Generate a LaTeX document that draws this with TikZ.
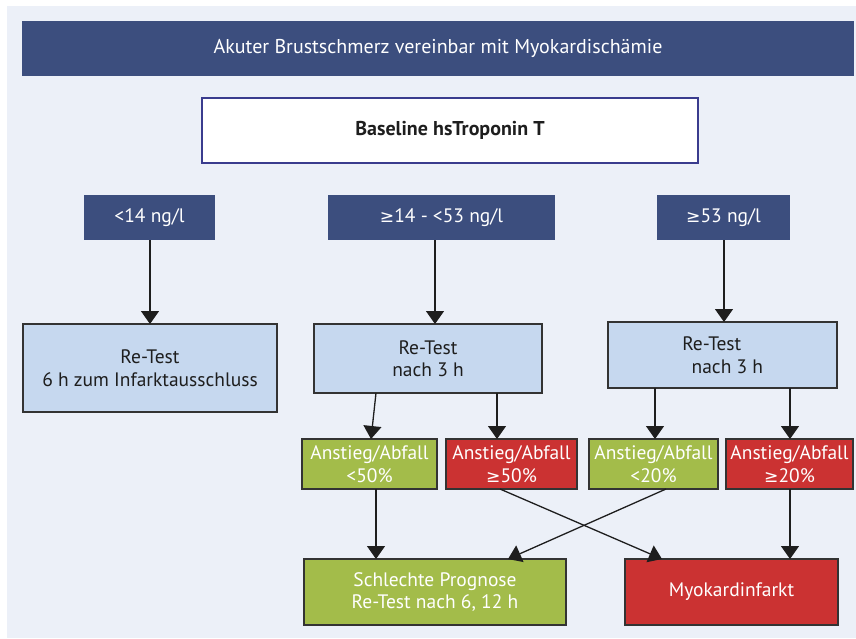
\documentclass[tikz,border=0pt]{standalone}
\usepackage{fontspec}
\setmainfont{PT Sans}
\newfontfamily\symfont[Scale=0.88]{DejaVu Sans}
\newcommand\gesym{{\symfont ≥}}
\usetikzlibrary{arrows.meta}

\definecolor{panel}{HTML}{ECF0F8}
\definecolor{navy}{HTML}{3C4E7E}
\definecolor{retest}{HTML}{C6D8EF}
\definecolor{okgreen}{HTML}{A3BC4A}
\definecolor{alarmred}{HTML}{CB3232}
\definecolor{boxline}{HTML}{333333}
\definecolor{frameblue}{HTML}{3A3C8E}
\definecolor{textdark}{HTML}{1E1E1E}

\begin{document}
\begin{tikzpicture}[x=1pt,y=-1pt,
  every node/.style={font=\fontsize{19.5}{22.5}\selectfont, align=center,
    inner sep=0pt, outer sep=0pt},
  navybox/.style={fill=navy, text=white},
  testbox/.style={fill=retest, draw=boxline, line width=1.2pt, text=textdark},
  greenbox/.style={fill=okgreen, draw=boxline, line width=1.2pt, text=white},
  redbox/.style={fill=alarmred, draw=boxline, line width=1.2pt, text=white},
  link/.style={draw=textdark, line width=1.3pt,
    -{Triangle[width=18pt,length=13pt]}}
]
% page and background panel
\fill[white] (0,0) rectangle (856,638);
\useasboundingbox (0,0) rectangle (856,638);
\fill[panel] (7,6) rectangle (856,638);

% header
\node[navybox, minimum width=832pt, minimum height=55pt,
  font=\fontsize{20}{23}\selectfont] (title) at (438,48.5)
  {Akuter Brustschmerz vereinbar mit Myokardischämie};
\node[fill=white, draw=frameblue, line width=1.2pt, text=textdark,
  minimum width=496pt, minimum height=65pt, font=\fontsize{20}{23}\selectfont\bfseries]
  (base) at (450,130.5) {Baseline hsTroponin T};

% troponin ranges
\node[navybox, minimum width=131pt, minimum height=45pt] (r1) at (149.5,217.5) {<14 ng/l};
\node[navybox, minimum width=227pt, minimum height=45pt] (r2) at (441.5,217.5) {\gesym14 - <53 ng/l};
\node[navybox, minimum width=133pt, minimum height=45pt] (r3) at (723.5,217.5) {\gesym53 ng/l};

% re-tests
\node[testbox, minimum width=254pt, minimum height=88pt] (t1) at (150,368)
  {Re-Test\\6 h zum Infarktausschluss};
\node[testbox, minimum width=228pt, minimum height=69pt] (t2) at (428,358.5)
  {Re-Test\\nach 3 h};
\node[testbox, minimum width=229pt, minimum height=66pt] (t3) at (722.5,355)
  {Re-Test\hspace*{1.1em}\\\hspace*{0.5em}nach 3 h};

% changes after 3 h
\node[greenbox, minimum width=135pt, minimum height=50pt] (a1) at (369.5,464)
  {Anstieg/Abfall\\<50\%};
\node[redbox, minimum width=131pt, minimum height=50pt] (a2) at (511.5,464)
  {Anstieg/Abfall\\\gesym50\%};
\node[greenbox, minimum width=129pt, minimum height=50pt] (a3) at (653.5,464)
  {Anstieg/Abfall\\<20\%};
\node[redbox, minimum width=127pt, minimum height=50pt] (a4) at (789.5,464)
  {Anstieg/Abfall\\\gesym20\%};

% outcomes
\node[greenbox, minimum width=262pt, minimum height=66pt] (b1) at (435,592)
  {Schlechte Prognose\\Re-Test nach 6, 12 h};
\node[redbox, minimum width=213pt, minimum height=66pt] (b2) at (731.5,592)
  {Myokardinfarkt};

% connectors
\draw[link] ([xshift=0.5pt]r1.south) -- ([xshift=0.5pt]r1.south |- t1.north);
\draw[link] ([xshift=-6.5pt]r2.south) -- ([xshift=-6.5pt]r2.south |- t2.north);
\draw[link] ([xshift=0.5pt]r3.south) -- ([xshift=0.5pt]r3.south |- t3.north);

\draw[link] ([xshift=-52pt]t2.south) -- ([xshift=1.5pt]a1.north);
\draw[link] ([xshift=69pt]t2.south) -- ([xshift=69pt]t2.south |- a2.north);
\draw[link] ([xshift=-67.5pt]t3.south) -- ([xshift=-67.5pt]t3.south |- a3.north);
\draw[link] ([xshift=0.5pt]a4.north |- t3.south) -- ([xshift=0.5pt]a4.north);

\draw[link] ([xshift=6.5pt]a1.south) -- ([xshift=6.5pt]a1.south |- b1.north);
\draw[link] ([xshift=-11.5pt]a2.south) -- ([xshift=-69.5pt]b2.north);
\draw[link] ([xshift=12.5pt]a3.south) -- ([xshift=73pt]b1.north);
\draw[link] ([xshift=0.5pt]a4.south) -- ([xshift=0.5pt]a4.south |- b2.north);
\end{tikzpicture}
\end{document}
